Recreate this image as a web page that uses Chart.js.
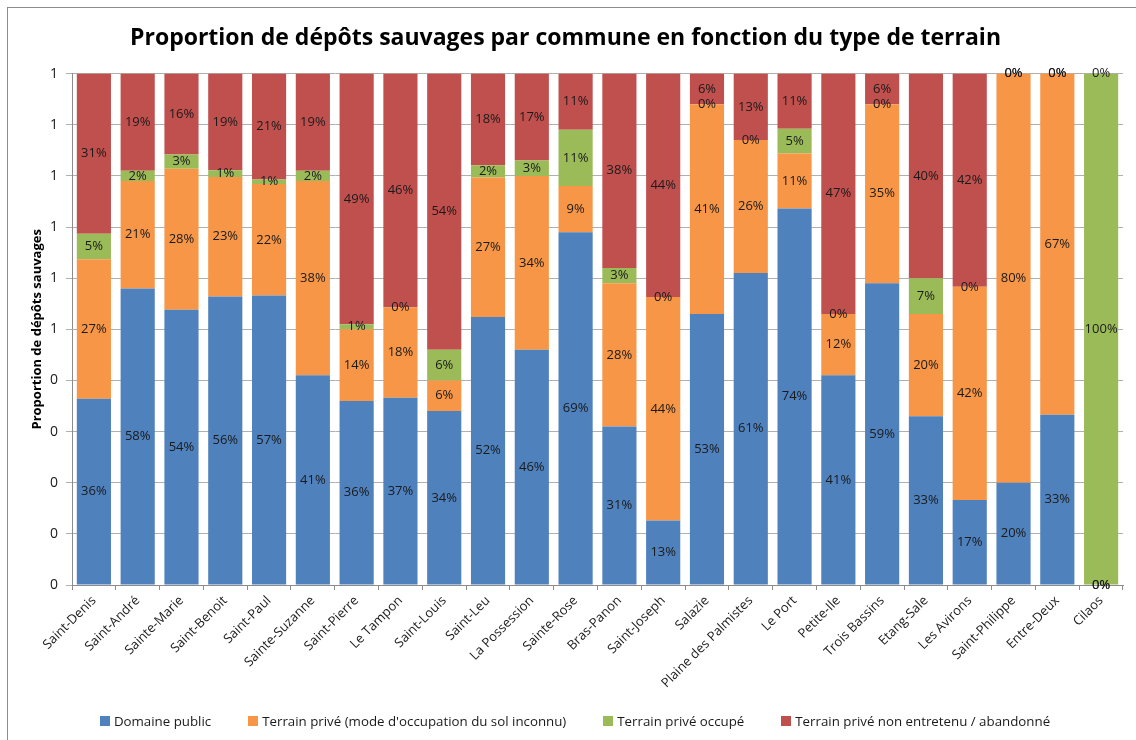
<!DOCTYPE html>
<html lang="fr">
<head>
<meta charset="utf-8">
<title>Proportion de dépôts sauvages</title>
<script src="https://cdn.jsdelivr.net/npm/chart.js@4.4.1/dist/chart.umd.min.js"></script>
<style>
  html, body { margin: 0; padding: 0; background: #fff; }
  #wrap { position: relative; width: 1136px; height: 740px; overflow: hidden; }
  #legend {
    position: absolute; left: 0; top: 712px; width: 1150px;
    display: flex; justify-content: center; gap: 37px;
    font-family: 'Open Sans', 'DejaVu Sans', sans-serif; font-size: 13.3px; color: #1a1a1a;
  }
  #legend .item { display: flex; align-items: center; white-space: nowrap; }
  #legend .box { width: 10px; height: 10px; margin-right: 4px; }
</style>
</head>
<body>
<div id="wrap">
  <canvas id="depotChart" width="1136" height="740"></canvas>
  <div id="legend"></div>
</div>
<script>
// communes (axe X)
const communes = [
  "Saint-Denis", "Saint-André", "Sainte-Marie", "Saint-Benoit", "Saint-Paul",
  "Sainte-Suzanne", "Saint-Pierre", "Le Tampon", "Saint-Louis", "Saint-Leu",
  "La Possession", "Sainte-Rose", "Bras-Panon", "Saint-Joseph", "Salazie",
  "Plaine des Palmistes", "Le Port", "Petite-Ile", "Trois Bassins", "Etang-Sale",
  "Les Avirons", "Saint-Philippe", "Entre-Deux", "Cilaos"
];

// proportions (%) par type de terrain
const domainePublic = [36.4, 58, 53.8, 56.4, 56.6, 41, 36, 36.6, 34, 52.4, 46, 69, 31, 12.6, 53, 61, 73.6, 41, 59, 33, 16.6, 20, 33.3, 0];
const priveInconnu  = [27.3, 21, 27.6, 23.4, 21.8, 38, 14, 17.7, 6, 27.3, 34, 9, 28, 43.7, 41, 26, 10.8, 12, 35, 20, 41.7, 80, 66.7, 0];
const priveOccupe   = [5.0, 2, 2.8, 1.3, 0.9, 2, 1, 0, 6, 2.4, 3, 11, 3, 0, 0, 0, 4.8, 0, 0, 7, 0, 0, 0, 100];
const priveAbandon  = [31.3, 19, 15.8, 18.9, 20.7, 19, 49, 45.7, 54, 17.9, 17, 11, 38, 43.7, 6, 13, 10.8, 47, 6, 40, 41.7, 0, 0, 0];

const seriesNames = [
  "Domaine public",
  "Terrain privé (mode d'occupation du sol inconnu)",
  "Terrain privé occupé",
  "Terrain privé non entretenu / abandonné"
];

// graduations de l'axe Y (affichées arrondies, comme dans l'original)
const yTicks = [0, 10, 20, 30, 40, 50, 60, 70, 80, 90, 100];

const FONT = "'Open Sans', 'DejaVu Sans', sans-serif";

document.addEventListener("DOMContentLoaded", function () {
  const ctx = document.getElementById("depotChart").getContext("2d");

  // cadre gris autour du graphique + fond blanc
  const framePlugin = {
    id: "frame",
    beforeDraw(chart) {
      const c = chart.ctx;
      c.save();
      c.fillStyle = "#fff";
      c.fillRect(0, 0, chart.width, chart.height);
      c.strokeStyle = "#8c8c8c";
      c.lineWidth = 1;
      c.strokeRect(7.5, 7.5, chart.width + 10, chart.height + 10);
      c.restore();
    }
  };

  // étiquettes de pourcentage au centre de chaque segment
  const labelPlugin = {
    id: "segmentLabels",
    afterDatasetsDraw(chart) {
      const c = chart.ctx;
      c.save();
      c.font = "13px " + FONT;
      c.fillStyle = "#1a1a1a";
      c.textAlign = "center";
      c.textBaseline = "middle";
      chart.data.datasets.forEach(function (ds, i) {
        const meta = chart.getDatasetMeta(i);
        meta.data.forEach(function (bar, j) {
          const yMid = (bar.y + bar.base) / 2;
          c.fillText(Math.round(ds.data[j]) + "%", bar.x, yMid);
        });
      });
      c.restore();
    }
  };

  // légende HTML construite à partir des éléments de légende du graphique
  const htmlLegendPlugin = {
    id: "htmlLegend",
    afterUpdate(chart) {
      const container = document.getElementById("legend");
      container.innerHTML = "";
      const items = chart.options.plugins.legend.labels.generateLabels(chart);
      items.forEach(function (item) {
        const div = document.createElement("div");
        div.className = "item";
        const box = document.createElement("span");
        box.className = "box";
        box.style.background = item.fillStyle;
        const txt = document.createElement("span");
        txt.textContent = item.text;
        div.appendChild(box);
        div.appendChild(txt);
        container.appendChild(div);
      });
    }
  };

  const colors = ["#4F81BD", "#F79646", "#9BBB59", "#C0504D"];
  const values = [domainePublic, priveInconnu, priveOccupe, priveAbandon];

  new Chart(ctx, {
    type: "bar",
    data: {
      labels: communes,
      datasets: values.map(function (v, i) {
        return {
          label: seriesNames[i],
          data: v,
          backgroundColor: colors[i],
          borderWidth: 0,
          barPercentage: 0.78,
          categoryPercentage: 1
        };
      })
    },
    options: {
      responsive: false,
      animation: false,
      layout: { padding: { left: 8, right: 13, top: 0, bottom: 46 } },
      scales: {
        x: {
          stacked: true,
          grid: { drawOnChartArea: false, drawTicks: true, tickLength: 5, color: "#8c8c8c" },
          border: { color: "#8c8c8c" },
          ticks: {
            color: "#1a1a1a",
            font: { family: FONT, size: 13 },
            minRotation: 45,
            maxRotation: 45,
            autoSkip: false
          },
          afterFit(scale) { scale.height = 109; }
        },
        y: {
          stacked: true,
          min: 0,
          max: 100,
          afterBuildTicks(scale) {
            scale.ticks = yTicks.map(function (v) { return { value: v }; });
          },
          grid: { color: "#b0b0b0", tickLength: 6 },
          border: { color: "#8c8c8c" },
          ticks: {
            color: "#1a1a1a",
            font: { family: FONT, size: 14 },
            padding: 8,
            callback: function (v) { return Math.round(v / 100); }
          },
          title: {
            display: true,
            text: "Proportion de dépôts sauvages",
            color: "#000",
            font: { family: FONT, size: 13, weight: "bold" },
            padding: { top: 21, bottom: 0 }
          },
          afterFit(scale) { scale.width = 64; }
        }
      },
      plugins: {
        title: {
          display: true,
          text: "Proportion de dépôts sauvages par commune en fonction du type de terrain",
          color: "#000",
          font: { family: FONT, size: 23, weight: "bold" },
          padding: { top: 25, bottom: 21 }
        },
        legend: { display: false },
        tooltip: { enabled: false }
      }
    },
    plugins: [framePlugin, labelPlugin, htmlLegendPlugin]
  });
});
</script>
</body>
</html>
